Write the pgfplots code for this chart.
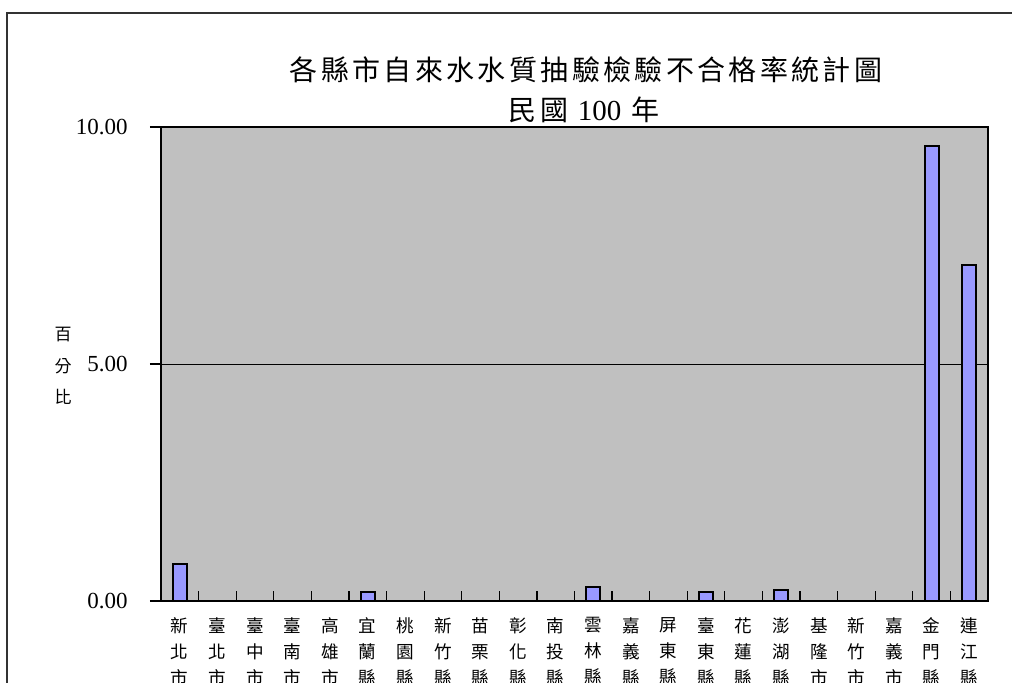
\documentclass[border=0pt]{standalone}
\usepackage{pgfplots}
\pgfplotsset{compat=1.18}
\usepackage{fontspec}
\setmainfont{Liberation Serif}
\newfontfamily\cjk{Noto Sans CJK TC}
\newfontfamily\cjktitle[LetterSpace=12]{Noto Sans CJK TC}
\definecolor{plotbg}{HTML}{C0C0C0}
\definecolor{barfill}{HTML}{9999FF}
\begin{document}
\begin{tikzpicture}[x=0.5pt,y=0.5pt]
\path[use as bounding box, clip] (0,0) rectangle (1012,682);
% outer chart frame (cut off on the right and at the bottom)
\draw[black!80, line width=0.6pt] (7,-20) -- (7,669) -- (1100,669);
\node[font=\cjktitle\fontsize{14}{16}\selectfont] at (586,612) {各縣市自來水水質抽驗檢驗不合格率統計圖};
\node[font=\cjktitle\fontsize{14}{16}\selectfont] at (584,572) {民國\ {\rmfamily\fontsize{14.5}{16}\selectfont 100}\ 年};
\node[font=\cjk\fontsize{8.5}{15.75}\selectfont, align=center] at (63,316) {百\\分\\比};
\begin{axis}[
  at={(80.5pt,40.5pt)}, anchor=south west,
  scale only axis, width=413.5pt, height=237pt,
  xmin=-0.5, xmax=21.5, ymin=0, ymax=10,
  axis background/.style={fill=plotbg},
  ybar, bar width=7pt,
  xtick={0,...,21},
  xticklabels={{新\\北\\市},{臺\\北\\市},{臺\\中\\市},{臺\\南\\市},{高\\雄\\市},{宜\\蘭\\縣},{桃\\園\\縣},{新\\竹\\縣},{苗\\栗\\縣},{彰\\化\\縣},{南\\投\\縣},{雲\\林\\縣},{嘉\\義\\縣},{屏\\東\\縣},{臺\\東\\縣},{花\\蓮\\縣},{澎\\湖\\縣},{基\\隆\\市},{新\\竹\\市},{嘉\\義\\市},{金\\門\\縣},{連\\江\\縣}},
  major x tick style={draw=none},
  minor xtick={0.5,1.5,...,20.5},
  tick align=outside, major tick length=5.5pt,
  minor tick length=-5pt, % negative: the minor x ticks point into the plot area
  ytick={0,5,10}, yticklabels={0.00,5.00,10.00},
  xtick pos=bottom, ytick pos=left,
  ymajorgrids, grid style={black, line width=0.5pt},
  yticklabel style={font=\fontsize{11.5}{12}\selectfont, inner sep=0pt, anchor=east, xshift=-11pt},
  xticklabel style={font=\cjk\fontsize{8.8}{13}\selectfont, align=center, anchor=north, inner sep=0pt, yshift=-2.5pt},
  axis line style={black, line width=0.8pt},
  tick style={black, line width=0.6pt},
]
\addplot[draw=black, fill=barfill, line width=1pt]
coordinates {(0,0.78) (5,0.20) (11,0.30) (14,0.20) (16,0.23) (20,9.60) (21,7.09)};
\end{axis}
\end{tikzpicture}
\end{document}
